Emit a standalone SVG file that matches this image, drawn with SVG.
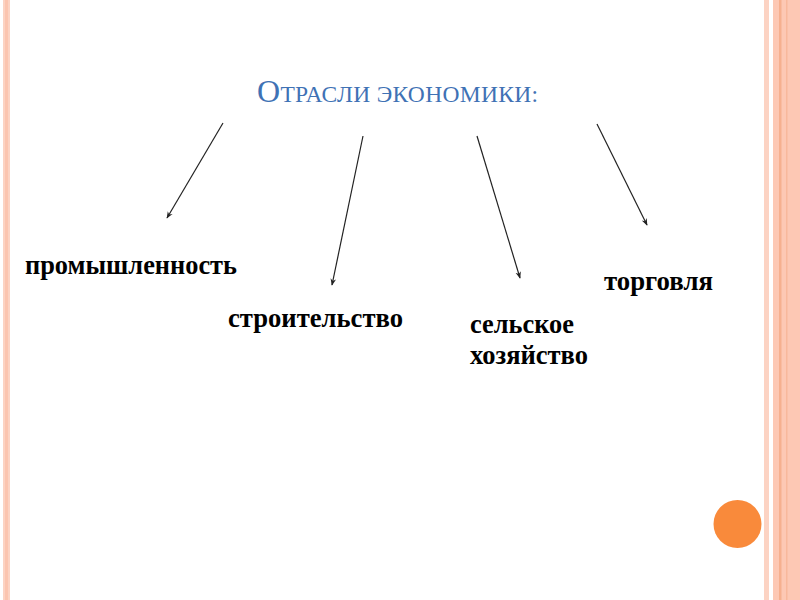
<svg xmlns="http://www.w3.org/2000/svg" width="800" height="600" viewBox="0 0 800 600">
<style>
.lbl{font-family:"Liberation Serif","Times New Roman",serif;font-weight:bold;font-size:26.5px;fill:#000}
.ttl{font-family:"Liberation Serif","Times New Roman",serif;fill:#3f72b5}
.conn line{stroke:#222;stroke-width:1.2;fill:none;marker-end:url(#ah)}
</style>
<defs>
<marker id="ah" viewBox="0 0 10 10" refX="9" refY="5" markerWidth="7" markerHeight="7" markerUnits="userSpaceOnUse" orient="auto">
<path d="M0,1 L10,5 L0,9 L3,5 Z" fill="#222"/>
</marker>
</defs>
<rect x="0" y="0" width="800" height="600" fill="#fff"/>
<g id="border">
<rect x="3" y="0" width="7" height="600" fill="#fcd3c3"/>
<rect x="5" y="0" width="3" height="600" fill="#fbc5b0"/>
<rect x="764" y="0" width="5" height="600" fill="#fcd3c3"/>
<rect x="773" y="0" width="27" height="600" fill="#fdc8b4"/>
<rect x="779" y="0" width="2.5" height="600" fill="#f6b08f"/>
<rect x="786" y="0" width="1.5" height="600" fill="#f8b89c"/>
<circle cx="737.5" cy="524" r="24" fill="#f98a3b"/>
</g>
<g id="title">
<text class="ttl" x="257" y="102" textLength="281" lengthAdjust="spacing"><tspan font-size="32">О</tspan><tspan font-size="23.5">ТРАСЛИ ЭКОНОМИКИ:</tspan></text>
</g>
<g id="n1"><text class="lbl" x="25" y="274" textLength="212" lengthAdjust="spacingAndGlyphs">промышленность</text></g>
<g id="n2"><text class="lbl" x="228" y="327" textLength="175" lengthAdjust="spacingAndGlyphs">строительство</text></g>
<g id="n3"><text class="lbl" x="470" y="333" textLength="104" lengthAdjust="spacingAndGlyphs">сельское</text><text class="lbl" x="470" y="364" textLength="118" lengthAdjust="spacingAndGlyphs">хозяйство</text></g>
<g id="n4"><text class="lbl" x="604" y="290" textLength="109" lengthAdjust="spacingAndGlyphs">торговля</text></g>
<g class="conn" id="connectors">
<line x1="223" y1="123" x2="167" y2="218"/>
<line x1="363" y1="136" x2="332" y2="285"/>
<line x1="477" y1="136" x2="520" y2="278"/>
<line x1="597" y1="124" x2="647" y2="225"/>
</g>
</svg>
